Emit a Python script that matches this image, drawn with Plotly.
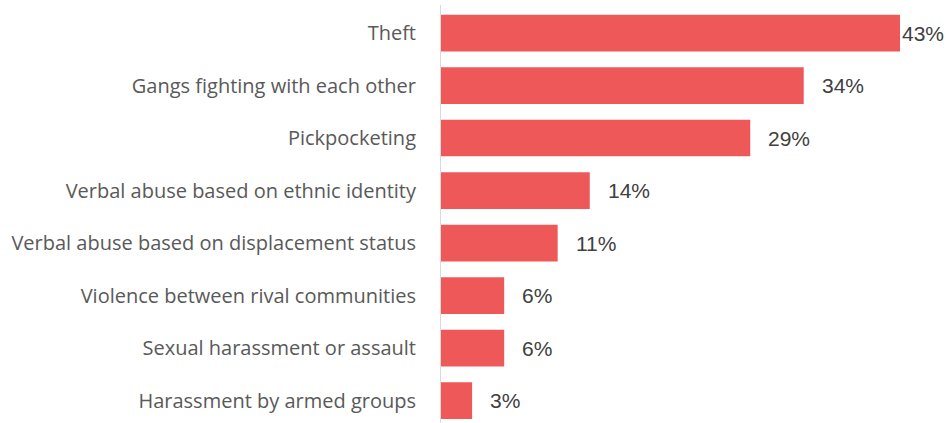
import plotly.graph_objects as go

categories = [
    "Theft",
    "Gangs fighting with each other",
    "Pickpocketing",
    "Verbal abuse based on ethnic identity",
    "Verbal abuse based on displacement status",
    "Violence between rival communities",
    "Sexual harassment or assault",
    "Harassment by armed groups",
]
values = [43, 34, 29, 14, 11, 6, 6, 3]
value_labels = [f"{v}%" for v in values]

W, H = 946, 423
LEFT = 440
PX_PER_PT = 460 / 43
x_max = (W - LEFT) / PX_PER_PT

# Reverse so the first category sits at the top
cats_r = categories[::-1]
vals_r = values[::-1]
labs_r = value_labels[::-1]

fig = go.Figure()
fig.add_trace(go.Bar(
    y=cats_r,
    x=vals_r,
    orientation="h",
    marker=dict(color="#EF5859", line=dict(width=0)),
    width=0.70,
    hoverinfo="skip",
))

# Value labels to the right of each bar
for c, v, t in zip(cats_r, vals_r, labs_r):
    room = (x_max - v) * PX_PER_PT
    shift = 16 if room > 60 else 0
    fig.add_annotation(
        x=v, y=c, text=t, showarrow=False,
        xanchor="left", yanchor="middle", xshift=shift,
        font=dict(family="Liberation Sans, Arial", size=21, color="#404040"),
    )

# Light vertical baseline
fig.add_shape(
    type="line", xref="x", yref="paper",
    x0=0, x1=0, y0=0, y1=(H - 5) / H,
    line=dict(color="#D9D9D9", width=2),
)

band = 52.5
top_center = 33
n = len(categories)
y_top = (n - 1) + top_center / band
y_bot = 0 - (H - (top_center + band * (n - 1))) / band

fig.update_layout(
    width=W, height=H,
    margin=dict(l=LEFT, r=0, t=0, b=0),
    paper_bgcolor="white", plot_bgcolor="white",
    showlegend=False,
    xaxis=dict(range=[0, x_max], visible=False, fixedrange=True),
    yaxis=dict(
        range=[y_bot, y_top],
        showgrid=False, zeroline=False, showline=False,
        ticks="", ticklabelstandoff=23,
        tickfont=dict(family="Open Sans, Segoe UI", size=20, color="#595959"),
        fixedrange=True,
    ),
)

fig.write_html("out.html", config={"displayModeBar": False})
